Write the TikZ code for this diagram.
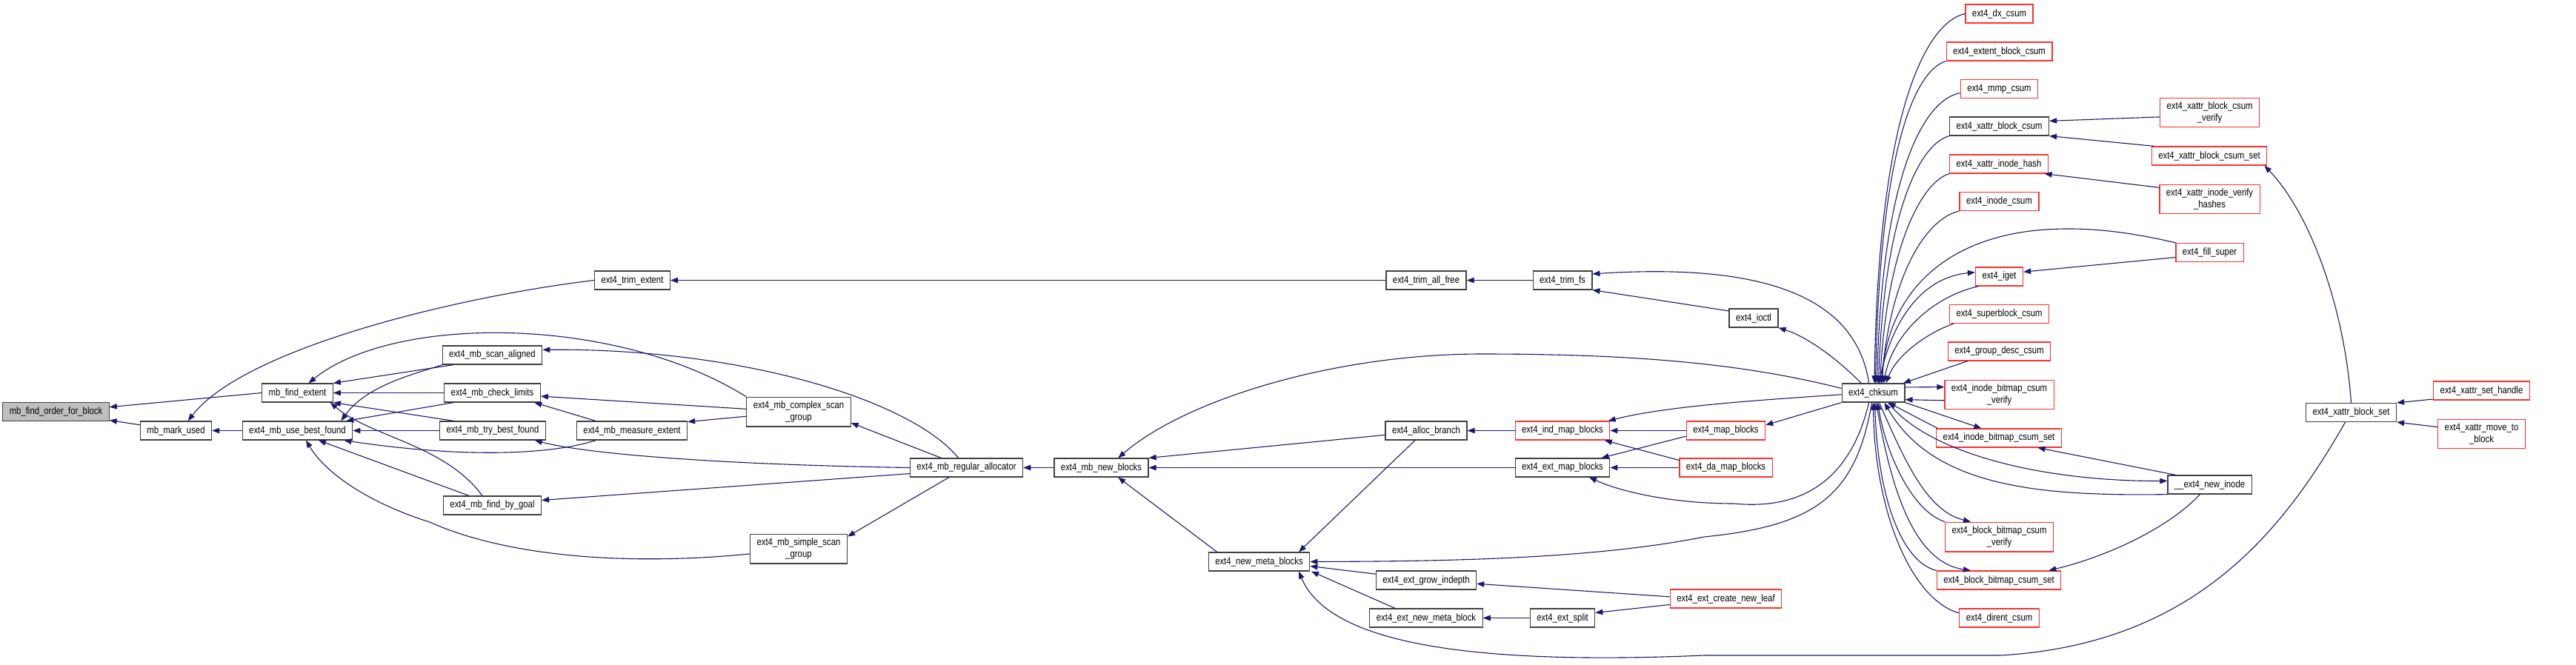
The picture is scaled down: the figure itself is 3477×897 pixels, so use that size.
\documentclass[tikz,border=0pt]{standalone}
\usepackage{fontspec}
\setmainfont{Liberation Sans}[FakeStretch=0.84]
\usetikzlibrary{arrows.meta,calc}
\definecolor{edgeblue}{HTML}{191970}
\definecolor{cutred}{HTML}{FF3030}
\definecolor{boxgray}{HTML}{404040}

\begin{document}
\begin{tikzpicture}[
    x=1pt, y=-1pt,
    func/.style={rectangle, draw=boxgray, line width=1.2pt, fill=white,
                 minimum height=25pt, inner xsep=9pt, inner ysep=5.5pt,
                 align=center, font=\fontsize{13.5pt}{16.2pt}\selectfont},
    root/.style={func, fill=gray!50},
    trunc/.style={func, draw=cutred},
    arrow/.style={draw=edgeblue, line width=1.1pt, -{Triangle[length=10pt,width=7.5pt]}},
]
\useasboundingbox (0,0) rectangle (3477,897);

% Nodes — mballoc side
\node[root]  (order)    at (75.5,556)   {mb\_find\_order\_for\_block};
\node[func]  (markused) at (237.5,581.5) {mb\_mark\_used};
\node[func]  (findext)  at (401.5,530.5) {mb\_find\_extent};
\node[func]  (usebest)  at (401.5,581.5) {ext4\_mb\_use\_best\_found};
\node[func]  (trimext)  at (853.5,378.5) {ext4\_trim\_extent};
\node[func]  (scanal)   at (664.5,479.5) {ext4\_mb\_scan\_aligned};
\node[func]  (chklim)   at (664.5,530.5) {ext4\_mb\_check\_limits};
\node[func]  (trybest)  at (665,581.5)   {ext4\_mb\_try\_best\_found};
\node[func]  (bygoal)   at (664.5,682.5) {ext4\_mb\_find\_by\_goal};
\node[func]  (measure)  at (853,581.5)   {ext4\_mb\_measure\_extent};
\node[func]  (complex)  at (1078,556)    {ext4\_mb\_complex\_scan\\\_group};
\node[func]  (simple)   at (1078,741)    {ext4\_mb\_simple\_scan\\\_group};
\node[func]  (regalloc) at (1304.5,631.5) {ext4\_mb\_regular\_allocator};
\node[func]  (newblocks) at (1486.5,631.5) {ext4\_mb\_new\_blocks};
\node[func]  (newmeta)  at (1699.5,758.5) {ext4\_new\_meta\_blocks};

% Nodes — trim, map and extent callers
\node[func]  (trimall)  at (1925,378.5)  {ext4\_trim\_all\_free};
\node[func]  (trimfs)   at (2109,378.5)  {ext4\_trim\_fs};
\node[func]  (ioctl)    at (2367,429.5)  {ext4\_ioctl};
\node[func]  (alloc)    at (1925,581.5)  {ext4\_alloc\_branch};
\node[trunc] (indmap)   at (2109,581.5)  {ext4\_ind\_map\_blocks};
\node[func]  (extmap)   at (2109,631.5)  {ext4\_ext\_map\_blocks};
\node[func]  (grow)     at (1925,783.5)  {ext4\_ext\_grow\_indepth};
\node[func]  (newmetablock) at (1925,834.5) {ext4\_ext\_new\_meta\_block};
\node[func]  (split)    at (2109,834.5)  {ext4\_ext\_split};
\node[trunc] (newleaf)  at (2329.5,808.5) {ext4\_ext\_create\_new\_leaf};
\node[trunc] (mapblocks) at (2329.5,581.5) {ext4\_map\_blocks};
\node[trunc] (damap)    at (2329.5,631.5) {ext4\_da\_map\_blocks};
\node[func]  (chksum)   at (2528.5,530.5) {ext4\_chksum};

% Nodes — checksum column
\node[trunc] (dxcsum)     at (2698.5,18.5)  {ext4\_dx\_csum};
\node[trunc] (extentcsum) at (2698.5,69.5)  {ext4\_extent\_block\_csum};
\node[trunc] (mmp)        at (2698.5,120)   {ext4\_mmp\_csum};
\node[func]  (xblkcsum)   at (2698.5,170.5) {ext4\_xattr\_block\_csum};
\node[trunc] (xinodehash) at (2698,221.5)   {ext4\_xattr\_inode\_hash};
\node[trunc] (inodecsum)  at (2698.5,272)   {ext4\_inode\_csum};
\node[trunc] (iget)       at (2698.5,373.5) {ext4\_iget};
\node[trunc] (sbcsum)     at (2698.5,424)   {ext4\_superblock\_csum};
\node[trunc] (gdcsum)     at (2698.5,474.5) {ext4\_group\_desc\_csum};
\node[trunc] (ibverify)   at (2698.5,533)   {ext4\_inode\_bitmap\_csum\\\_verify};
\node[trunc] (ibset)      at (2698,591.5)   {ext4\_inode\_bitmap\_csum\_set};
\node[trunc] (bbverify)   at (2698.5,725)   {ext4\_block\_bitmap\_csum\\\_verify};
\node[trunc] (bbset)      at (2698,783.5)   {ext4\_block\_bitmap\_csum\_set};
\node[trunc] (dirent)     at (2698.5,834.5) {ext4\_dirent\_csum};

% Nodes — xattr side
\node[trunc] (xverify)     at (2982.5,152)  {ext4\_xattr\_block\_csum\\\_verify};
\node[trunc] (xcsumset)    at (2982,210.5)  {ext4\_xattr\_block\_csum\_set};
\node[trunc] (xverifyhash) at (2982.5,269)  {ext4\_xattr\_inode\_verify\\\_hashes};
\node[trunc] (fillsuper)   at (2982.5,341)  {ext4\_fill\_super};
\node[func]  (newinode)    at (2982.5,654.5) {\_\_ext4\_new\_inode};
\node[func]  (xblkset)     at (3173.5,557)  {ext4\_xattr\_block\_set};
\node[trunc] (sethandle)   at (3349.5,527.5) {ext4\_xattr\_set\_handle};
\node[trunc] (movetoblock) at (3349.5,586)  {ext4\_xattr\_move\_to\\\_block};

% Calls into mb_find_order_for_block, mb_mark_used, mb_find_extent
\draw[arrow] (findext.west) -- (order.5);
\draw[arrow] (markused.171) -- (order.-9);
\draw[arrow] (usebest.west) -- (markused.east);
\draw[arrow] (trimext.west) .. controls (620,400) and (330,470) .. (markused.39);
\draw[arrow] (complex.164) .. controls (830,425) and (530,425) .. ([xshift=15pt]findext.north);
\draw[arrow] (scanal.194) -- (findext.north east);
\draw[arrow] (chklim.west) -- (findext.east);
\draw[arrow] (trybest.166) -- (findext.south east);
\draw[arrow] ([xshift=-13.5pt]bygoal.north) .. controls (600,600) and (500,590) .. ([xshift=-4pt]findext.south east);

% Calls into ext4_mb_use_best_found
\draw[arrow] (scanal.191) .. controls (560,505) and (495,520) .. ([xshift=-16pt]usebest.north east);
\draw[arrow] (chklim.194) -- ([xshift=-9pt]usebest.north east);
\draw[arrow] (trybest.west) -- (usebest.east);
\draw[arrow] (measure.195) .. controls (740,615) and (620,618) .. ([xshift=-12pt]usebest.south east);
\draw[arrow] ([xshift=-31.5pt]bygoal.north) -- ([xshift=28.5pt]usebest.south);
\draw[arrow] (simple.186) .. controls (840,765) and (680,750) .. (580,705)
             .. controls (500,680) and (440,640) .. ([xshift=11.5pt]usebest.south);

% Scan helpers and the regular allocator
\draw[arrow] (complex.177) -- (chklim.-4);
\draw[arrow] (measure.165) -- (chklim.-13);
\draw[arrow] (complex.185) -- (measure.9);
\draw[arrow] (regalloc.130) .. controls (1230,540) and (1000,470) .. (scanal.6);
\draw[arrow] (regalloc.159) -- (complex.-12);
\draw[arrow] (regalloc.west) .. controls (1000,628) and (800,615) .. (trybest.-13);
\draw[arrow] (regalloc.186) -- (bygoal.6);
\draw[arrow] (regalloc.209) -- (simple.14);
\draw[arrow] (newblocks.west) -- (regalloc.east);

% Calls into ext4_mb_new_blocks and ext4_new_meta_blocks
\draw[arrow] (chksum.172) .. controls (2350,490) and (2200,478) .. (2000,478)
             .. controls (1800,478) and (1600,540) .. (newblocks.30);
\draw[arrow] (alloc.186) -- (newblocks.north east);
\draw[arrow] (extmap.west) -- (newblocks.east);
\draw[arrow] (newmeta.167) -- (newblocks.-30);
\draw[arrow] ([xshift=-15pt]alloc.south) -- ([xshift=53.5pt]newmeta.north);
\draw[arrow] ([xshift=-2pt]chksum.south) .. controls (2505,670) and (2450,710) .. (2300,725)
             .. controls (2150,755) and (1950,758) .. (newmeta.east);
\draw[arrow] (grow.173) -- (newmeta.-5);
\draw[arrow] ([xshift=-42pt]newmetablock.north) -- ([xshift=70.5pt]newmeta.south);
\draw[arrow] ([xshift=-8pt]xblkset.south) .. controls (3080,720) and (2960,870) .. (2700,885)
             -- (2300,885) .. controls (1950,900) and (1790,860) .. ([xshift=53.5pt]newmeta.south);

% Extent tree and block mapping
\draw[arrow] (indmap.west) -- (alloc.east);
\draw[arrow] (newleaf.178) -- (grow.-4);
\draw[arrow] (newleaf.186) -- (split.9);
\draw[arrow] (split.west) -- (newmetablock.east);
\draw[arrow] (chksum.183) .. controls (2380,540) and (2250,548) .. (indmap.12);
\draw[arrow] (mapblocks.west) -- (indmap.east);
\draw[arrow] (damap.171) -- (indmap.-13);
\draw[arrow] (mapblocks.188) -- (extmap.14);
\draw[arrow] (damap.west) -- (extmap.east);
\draw[arrow] ([xshift=-6pt]chksum.south) .. controls (2500,640) and (2440,690) .. (2340,680)
             .. controls (2260,680) and (2190,665) .. (extmap.-20);
\draw[arrow] (chksum.south west) -- (mapblocks.8);

% Trim path
\draw[arrow] (trimall.west) -- (trimext.east);
\draw[arrow] (trimfs.west) -- (trimall.east);
\draw[arrow] (ioctl.164) -- (trimfs.south east);
\draw[arrow] (chksum.114) .. controls (2505,400) and (2380,355) .. (trimfs.12);
\draw[arrow] (chksum.141) .. controls (2480,485) and (2440,455) .. (ioctl.south east);

% Checksum column into ext4_chksum (top)
\draw[arrow] (dxcsum.west) .. controls (2600,30) and (2535,150) .. ([xshift=1.5pt]chksum.north);
\draw[arrow] (extentcsum.south west) .. controls (2585,95) and (2537,200) .. ([xshift=3pt]chksum.north);
\draw[arrow] (mmp.186) .. controls (2595,135) and (2540,240) .. ([xshift=5pt]chksum.north);
\draw[arrow] (xblkcsum.south west) .. controls (2590,195) and (2543,290) .. ([xshift=7pt]chksum.north);
\draw[arrow] (xinodehash.south west) .. controls (2595,245) and (2547,330) .. ([xshift=9pt]chksum.north);
\draw[arrow] (inodecsum.south west) .. controls (2600,295) and (2552,370) .. ([xshift=11pt]chksum.north);
\draw[arrow] (fillsuper.164) .. controls (2860,310) and (2800,305) .. (2740,312)
             .. controls (2600,330) and (2545,420) .. ([xshift=12pt]chksum.north);
\draw[arrow] (iget.205) .. controls (2610,400) and (2555,450) .. ([xshift=14pt]chksum.north);
\draw[arrow] ([xshift=8pt]chksum.north) .. controls (2550,440) and (2590,375) .. (iget.170);
\draw[arrow] (sbcsum.192) .. controls (2600,450) and (2560,480) .. ([xshift=17pt]chksum.north);
\draw[arrow] (gdcsum.197) -- (chksum.18);

% Bitmap checksums and __ext4_new_inode
\draw[arrow] (chksum.10) -- (ibverify.172);
\draw[arrow] (ibverify.186) -- (chksum.-12);
\draw[arrow] (ibset.171) -- (chksum.-33);
\draw[arrow] (chksum.south east) -- (ibset.151);
\draw[arrow] ([xshift=8pt]chksum.south) .. controls (2570,620) and (2600,690) .. ([xshift=-38.5pt]bbverify.north);
\draw[arrow] (bbverify.north west) .. controls (2580,690) and (2545,610) .. ([xshift=6pt]chksum.south);
\draw[arrow] ([xshift=4pt]chksum.south) .. controls (2555,680) and (2590,760) .. ([xshift=-38pt]bbset.north);
\draw[arrow] (bbset.north west) .. controls (2570,760) and (2535,680) .. ([xshift=2pt]chksum.south);
\draw[arrow] (dirent.173) .. controls (2580,810) and (2530,690) .. (chksum.south);
\draw[arrow] ([xshift=20pt]chksum.south) .. controls (2600,610) and (2750,650) .. (newinode.175);
\draw[arrow] (newinode.south west) .. controls (2760,670) and (2610,660) .. ([xshift=15pt]chksum.south);
\draw[arrow] (newinode.164) -- (ibset.-14);
\draw[arrow] (newinode.-135) .. controls (2930,710) and (2850,750) .. (bbset.11);

% xattr block checksums
\draw[arrow] (xverify.185) -- (xblkcsum.6);
\draw[arrow] (xcsumset.170) -- (xblkcsum.south east);
\draw[arrow] (xverifyhash.167) -- (xinodehash.-12);
\draw[arrow] (xblkset.north) .. controls (3165,420) and (3120,290) .. (xcsumset.-10);
\draw[arrow] (sethandle.190) -- (xblkset.north east);
\draw[arrow] (movetoblock.171) -- (xblkset.south east);
\draw[arrow] (fillsuper.188) -- (iget.11);

\end{tikzpicture}
\end{document}
